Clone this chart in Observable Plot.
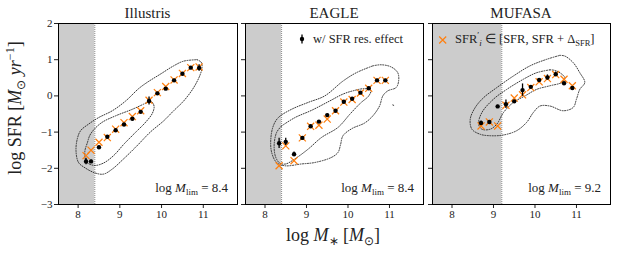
<!DOCTYPE html>
<html><head><meta charset="utf-8">
<script src="https://cdn.jsdelivr.net/npm/d3@7"></script>
<script src="https://cdn.jsdelivr.net/npm/@observablehq/plot@0.6"></script>
<style>
html,body{margin:0;padding:0;background:#fff;}
#chart{position:relative;width:623px;height:257px;overflow:hidden;font-family:"Liberation Serif",serif;}
#chart svg{position:absolute;top:0;}
#chart svg text{font-family:"Liberation Serif",serif;}
</style></head><body><div id="chart"></div>
<script>
// ---- data ----
const panelNames = ["Illustris", "EAGLE", "MUFASA"];
const mlim = [8.4, 8.4, 9.2];
const xTicks = [8, 9, 10, 11];
const yTicks = [-3, -2, -1, 0, 1, 2];

const massIllustris = [8.19, 8.31, 8.5, 8.7, 8.9, 9.1, 9.3, 9.5, 9.7, 9.9, 10.1, 10.3, 10.5, 10.7, 10.9];
const sfrIllustris = [-1.81, -1.81, -1.42, -1.13, -0.95, -0.79, -0.63, -0.44, -0.14, 0.07, 0.2, 0.43, 0.61, 0.78, 0.77];
const errIllustris = [0.09, 0.04, 0.03, 0.03, 0.03, 0.03, 0.03, 0.03, 0.11, 0.03, 0.03, 0.03, 0.03, 0.03, 0.09];
const sfrPrimeIllustris = [-1.65, -1.5, -1.28, -1.15, -0.92, -0.74, -0.57, -0.41, -0.12, 0.09, 0.26, 0.44, 0.62, 0.78, 0.8];

const massEagle = [8.34, 8.5, 8.7, 8.9, 9.1, 9.3, 9.5, 9.7, 9.9, 10.1, 10.3, 10.5, 10.7, 10.9];
const sfrEagle = [-1.31, -1.27, -1.61, -1.16, -0.84, -0.71, -0.53, -0.41, -0.16, -0.08, 0.09, 0.21, 0.43, 0.43];
const errEagle = [0.14, 0.1, 0.06, 0.03, 0.03, 0.03, 0.03, 0.03, 0.03, 0.03, 0.03, 0.03, 0.03, 0.03];
const sfrPrimeEagle = [-1.93, -1.38, -1.79, -1.16, -0.84, -0.81, -0.64, -0.41, -0.17, -0.1, 0.08, 0.21, 0.43, 0.43];

const massMufasa = [8.7, 8.9, 9.1, 9.3, 9.5, 9.7, 9.9, 10.1, 10.3, 10.5, 10.7, 10.9];
const sfrMufasa = [-0.75, -0.72, -0.29, -0.23, -0.15, 0.16, 0.25, 0.44, 0.51, 0.6, 0.35, 0.22];
const errMufasa = [0.06, 0.03, 0.03, 0.12, 0.03, 0.17, 0.03, 0.03, 0.07, 0.06, 0.03, 0.03];
const sfrPrimeMufasa = [-0.83, -0.72, -0.83, -0.26, -0.06, 0.03, 0.23, 0.39, 0.48, 0.59, 0.46, 0.28];

// density contours [log M*, log SFR]
const contoursIllustris = [
  [[10.85,1.0],[10.95,0.93],[10.97,0.8],[10.93,0.6],[10.77,0.23],[10.53,-0.14],[10.29,-0.41],[10.05,-0.69],[9.73,-1.0],[9.41,-1.38],[9.09,-1.74],[8.82,-2.02],[8.61,-2.16],[8.41,-2.13],[8.17,-1.99],[8.01,-1.84],[7.95,-1.52],[7.98,-1.19],[8.06,-0.96],[8.25,-0.78],[8.49,-0.6],[8.82,-0.41],[9.14,-0.14],[9.45,0.2],[9.65,0.37],[9.97,0.6],[10.29,0.83],[10.53,0.96],[10.85,1.0]],
  [[9.62,-0.2],[9.75,-0.15],[9.82,-0.28],[9.78,-0.48],[9.6,-0.75],[9.4,-0.98],[9.1,-1.33],[8.85,-1.65],[8.6,-1.86],[8.38,-1.92],[8.2,-1.82],[8.16,-1.55],[8.22,-1.3],[8.3,-1.05],[8.55,-0.75],[8.9,-0.55],[9.3,-0.37],[9.62,-0.2]]
];
const contoursEagle = [
  [[10.6,0.83],[10.8,0.86],[11.04,0.8],[11.2,0.64],[11.22,0.41],[11.16,0.23],[10.96,0.14],[10.84,0.0],[10.76,-0.28],[10.6,-0.55],[10.4,-0.75],[10.1,-0.9],[9.88,-1.1],[9.82,-1.35],[9.76,-1.56],[9.6,-1.7],[9.2,-1.84],[8.88,-1.88],[8.48,-1.93],[8.28,-1.84],[8.16,-1.56],[8.14,-1.19],[8.2,-0.83],[8.32,-0.6],[8.64,-0.37],[9.04,-0.18],[9.44,0.0],[9.88,0.41],[10.2,0.64],[10.6,0.83]],
  [[8.4,-0.83],[8.72,-0.6],[9.12,-0.4],[9.56,-0.14],[9.88,0.05],[10.12,0.14],[10.4,0.2],[10.55,0.15],[10.5,0.0],[10.3,-0.2],[10.05,-0.5],[9.76,-0.87],[9.36,-1.15],[9.04,-1.47],[8.72,-1.74],[8.5,-1.88],[8.36,-1.86],[8.26,-1.7],[8.22,-1.38],[8.28,-1.01],[8.4,-0.83]],
  [[11.08,-0.25],[11.12,-0.27]]
];
const contoursMufasa = [
  [[10.6,1.12],[10.72,1.1],[10.92,0.92],[11.08,0.64],[11.2,0.37],[11.08,0.18],[11.0,-0.09],[10.92,-0.32],[10.68,-0.41],[10.36,-0.28],[10.12,-0.28],[9.96,-0.46],[9.8,-0.73],[9.56,-0.96],[9.24,-1.08],[8.92,-1.1],[8.68,-1.06],[8.48,-0.92],[8.44,-0.64],[8.56,-0.32],[8.76,-0.05],[9.08,0.23],[9.48,0.55],[9.88,0.83],[10.28,1.01],[10.6,1.12]],
  [[10.36,0.72],[10.52,0.69],[10.72,0.5],[10.64,0.37],[10.36,0.28],[10.04,0.18],[9.76,0.0],[9.48,-0.18],[9.24,-0.46],[9.08,-0.78],[8.92,-0.92],[8.72,-0.92],[8.64,-0.78],[8.72,-0.46],[9.0,-0.09],[9.32,0.18],[9.72,0.46],[10.04,0.64],[10.36,0.72]]
];

const masses = [massIllustris, massEagle, massMufasa];
const sfrs = [sfrIllustris, sfrEagle, sfrMufasa];
const errs = [errIllustris, errEagle, errMufasa];
const sfrPrimes = [sfrPrimeIllustris, sfrPrimeEagle, sfrPrimeMufasa];
const contours = [contoursIllustris, contoursEagle, contoursMufasa];

// ---- layout ----
const xDomain = [7.53, 11.82];
const yDomain = [-3, 2];
const geoms = [
  {left: 0, width: 240, ml: 58},
  {left: 239, width: 187, ml: 6},
  {left: 426, width: 187, ml: 6}
];
const MR = 3, MT = 23, MB = 24, H = 228;
const chart = document.getElementById("chart");
const orange = "#ff7f0e";
const FONT = "'Liberation Serif', serif";

geoms.forEach((g, i) => {
  const pts = masses[i].map((m, j) => ({m, sfr: sfrs[i][j], err: errs[i][j], sp: sfrPrimes[i][j]}));
  const cont = contours[i].flatMap((c, k) => c.map(([m, s]) => ({m, s, k})));
  const plot = Plot.plot({
    width: g.width, height: H,
    marginLeft: g.ml, marginRight: MR, marginTop: MT, marginBottom: MB,
    style: `font-family: ${FONT}; font-size: 11px; color: #222; background: transparent; overflow: visible;`,
    x: {domain: xDomain, ticks: xTicks, tickSize: 4, tickPadding: 2, label: null, tickFormat: d => String(d)},
    y: {domain: yDomain, ticks: yTicks, tickSize: 4, tickPadding: 2, label: null,
        tickFormat: i === 0 ? (d => d < 0 ? "\u2212" + Math.abs(d) : String(d)) : (() => "")},
    marks: [
      Plot.rect([mlim[i]], {x1: () => xDomain[0], x2: d => d, y1: () => yDomain[0], y2: () => yDomain[1], fill: "#cccccc"}),
      Plot.ruleX([mlim[i]], {stroke: "#888", strokeDasharray: "1,1", strokeWidth: 1}),
      Plot.line(cont, {x: "m", y: "s", z: "k", stroke: "#222", strokeWidth: 0.9, strokeDasharray: "1,1.5", curve: "catmull-rom"}),
      Plot.dot(pts, {x: "m", y: "sp", symbol: "times", stroke: orange, fill: "none", r: 3.3, strokeWidth: 1.2}),
      Plot.ruleX(pts, {x: "m", y1: d => d.sfr - d.err, y2: d => d.sfr + d.err, stroke: "black", strokeWidth: 1.3}),
      Plot.dot(pts, {x: "m", y: "sfr", fill: "black", r: 2.2}),
      Plot.frame({stroke: "black", strokeWidth: 1})
    ]
  });
  plot.setAttribute("font-family", FONT);
  plot.style.left = g.left + "px";
  chart.appendChild(plot);

  const svg = d3.select(plot);
  const fl = g.ml, fr = g.width - MR;
  // title
  svg.append("text").attr("x", (fl + fr) / 2).attr("y", 18).attr("text-anchor", "middle")
    .attr("fill", "#222").style("font-size", "15px").text(panelNames[i]);
  // M_lim annotation
  const t = svg.append("text").attr("x", fr - 9).attr("y", 192).attr("text-anchor", "end")
    .attr("fill", "#222").style("font-size", "13px");
  t.append("tspan").text("log ");
  t.append("tspan").attr("font-style", "italic").text("M");
  t.append("tspan").attr("dy", 3).style("font-size", "9px").text("lim");
  t.append("tspan").attr("dy", -3).text(" = " + mlim[i]);

  if (i === 1) {
    const lx = fl + 57;
    svg.append("line").attr("x1", lx).attr("x2", lx).attr("y1", 34.5).attr("y2", 43.5).attr("stroke", "black").attr("stroke-width", 1.3);
    svg.append("circle").attr("cx", lx).attr("cy", 39).attr("r", 2.2).attr("fill", "black");
    svg.append("text").attr("x", fl + 68).attr("y", 43).attr("text-anchor", "start").attr("fill", "#222").style("font-size", "12.5px").text("w/ SFR res. effect");
  }
  if (i === 2) {
    const lx = fl + 10.7, ly = 40, s = 3.5;
    svg.append("path").attr("d", `M${lx - s},${ly - s}L${lx + s},${ly + s}M${lx - s},${ly + s}L${lx + s},${ly - s}`)
      .attr("stroke", orange).attr("stroke-width", 1.2).attr("fill", "none");
    const lt = svg.append("text").attr("x", fl + 23).attr("y", 43).attr("text-anchor", "start").attr("fill", "#222").style("font-size", "12.5px");
    lt.append("tspan").text("SFR");
    lt.append("tspan").attr("dy", -5).style("font-size", "9px").text("\u2032");
    lt.append("tspan").attr("dy", 8).style("font-size", "9px").attr("font-style", "italic").text("i");
    lt.append("tspan").attr("dy", -3).text(" \u2208 [SFR, SFR + \u0394");
    lt.append("tspan").attr("dy", 3).style("font-size", "8.5px").text("SFR");
    lt.append("tspan").attr("dy", -3).text("]");
  }
  svg.selectAll("text").attr("font-family", FONT).style("font-family", FONT);
});

// axis labels overlay
const ov = d3.select(chart).append("svg").attr("width", 623).attr("height", 257)
  .style("left", "0px").style("pointer-events", "none")
  .attr("font-family", FONT);
const yl = ov.append("text").attr("transform", "translate(21,108) rotate(-90)").attr("text-anchor", "middle")
  .attr("fill", "#222").style("font-size", "18px");
yl.append("tspan").text("log SFR [");
yl.append("tspan").attr("font-style", "italic").text("M");
yl.append("tspan").attr("dy", 4).style("font-size", "12px").text("\u2299");
yl.append("tspan").attr("dy", -4).text(" ");
yl.append("tspan").attr("font-style", "italic").text("yr");
yl.append("tspan").attr("dy", -7).style("font-size", "12px").text("\u22121");
yl.append("tspan").attr("dy", 7).text("]");

const xl = ov.append("text").attr("x", 333).attr("y", 241).attr("text-anchor", "middle")
  .attr("fill", "#222").style("font-size", "18px");
xl.append("tspan").text("log ");
xl.append("tspan").attr("font-style", "italic").text("M");
xl.append("tspan").attr("dy", 4).style("font-size", "12px").text("\u2217");
xl.append("tspan").attr("dy", -4).text("  [");
xl.append("tspan").attr("font-style", "italic").text("M");
xl.append("tspan").attr("dy", 4).style("font-size", "12px").text("\u2299");
xl.append("tspan").attr("dy", -4).text("]");
</script></body></html>
